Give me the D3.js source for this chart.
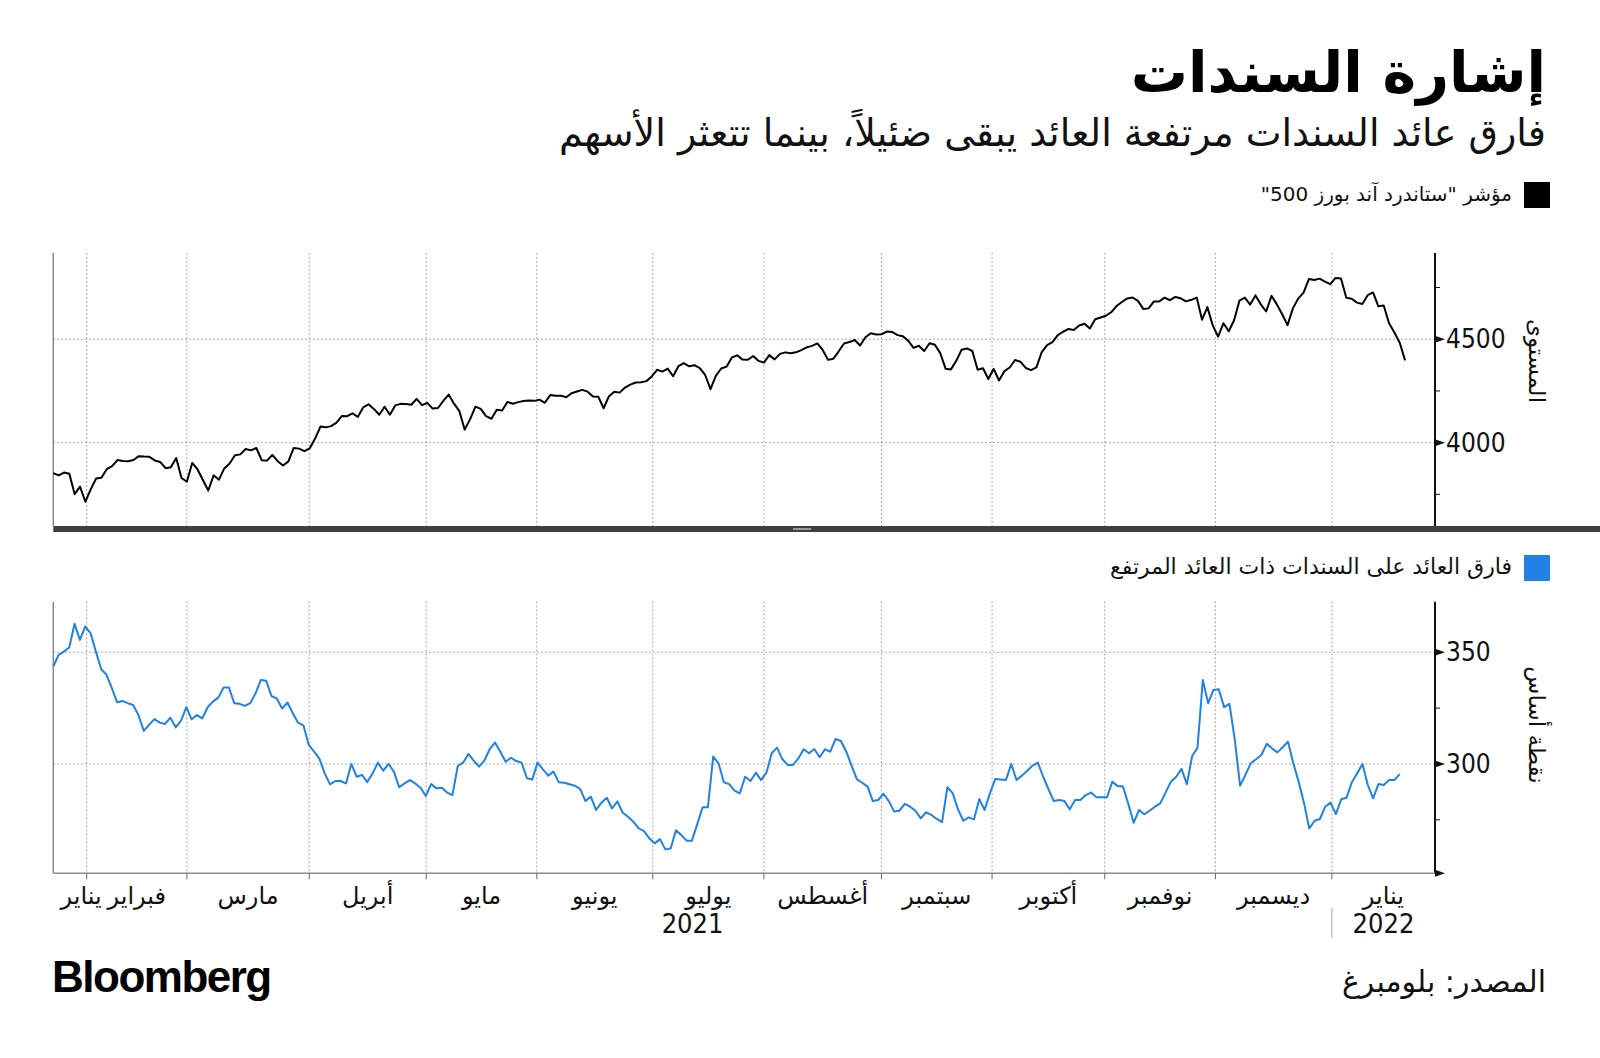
<!DOCTYPE html>
<meta charset="utf-8">
<script src="https://d3js.org/d3.v7.min.js"></script>
<style>
body{margin:0;background:#fff;}
text{font-family:"DejaVu Sans",sans-serif;fill:#111;}
.grid{stroke:#8f8f8f;stroke-width:1;stroke-dasharray:1.5,2.5;}
.num{font-family:"DejaVu Sans Condensed","DejaVu Sans",sans-serif;}
</style>
<div id="chart"></div>
<script>
// S&P 500 daily closes, trading days from 21 Jan 2021 to 21 Jan 2022
var spx = [3853.07,3841.47,3855.36,3849.62,3750.77,3787.38,3714.24,
  3773.86,3826.31,3830.17,3871.74,3886.83,3915.59,3911.23,3909.88,3916.38,3934.83,3932.59,3931.33,3913.97,3906.71,3876.50,3881.37,3925.43,3829.34,3811.15,
  3901.82,3870.29,3819.72,3768.47,3841.94,3821.35,3875.44,3898.81,3939.34,3943.34,3968.94,3962.71,3974.12,3915.46,3913.10,3940.59,3910.52,3889.14,3909.52,3974.54,3971.09,3958.55,3972.89,
  4019.87,4077.91,4073.94,4079.95,4097.17,4128.80,4127.99,4141.59,4124.66,4170.42,4185.47,4163.26,4134.94,4173.42,4134.98,4180.17,4187.62,4186.72,4183.18,4211.47,4181.17,
  4192.66,4164.66,4167.59,4201.62,4232.60,4188.43,4152.10,4063.04,4112.50,4173.85,4163.29,4127.83,4115.68,4159.12,4155.86,4197.05,4188.13,4195.99,4200.88,4204.11,
  4202.04,4208.12,4192.85,4229.89,4226.52,4227.26,4219.55,4239.18,4247.44,4255.15,4246.59,4223.70,4221.86,4166.45,4224.79,4246.44,4241.84,4266.49,4280.70,4290.61,4291.80,4297.50,
  4319.94,4352.34,4343.54,4358.13,4320.82,4369.55,4384.63,4369.21,4374.30,4360.03,4327.16,4258.49,4323.06,4358.69,4367.48,4411.79,4422.30,4401.46,4400.64,4419.15,4395.26,
  4387.16,4423.15,4402.66,4429.10,4436.52,4432.35,4436.75,4447.70,4460.83,4468.00,4479.71,4448.08,4400.27,4405.80,4441.67,4479.53,4486.23,4496.19,4470.00,4509.37,4528.79,4522.68,
  4524.09,4536.95,4535.43,4520.03,4514.07,4493.28,4458.58,4468.73,4443.05,4480.70,4473.75,4432.99,4357.73,4354.19,4395.64,4448.98,4455.48,4443.11,4352.63,4359.46,4307.54,
  4357.04,4300.46,4345.72,4363.55,4399.76,4391.34,4361.19,4350.65,4363.80,4438.26,4471.37,4486.46,4519.63,4536.19,4549.78,4544.90,4566.48,4574.79,4551.68,4596.42,4605.38,
  4613.67,4630.65,4660.57,4680.06,4697.53,4701.70,4685.25,4646.71,4649.27,4682.85,4682.80,4700.90,4688.67,4704.54,4697.96,4682.94,4690.70,4701.46,4594.62,4655.27,4567.00,
  4513.04,4577.10,4538.43,4591.67,4686.75,4701.21,4667.45,4712.02,4668.97,4634.09,4709.85,4668.67,4620.64,4568.02,4649.23,4696.56,4725.79,4791.19,4786.35,4793.06,4778.73,4766.18,
  4796.56,4793.54,4700.58,4696.05,4677.03,4670.29,4713.07,4726.35,4659.03,4662.85,4577.11,4532.76,4482.73,4397.94];

// high-yield spread, basis points, 21 Jan 2021 to 20 Jan 2022
var hySpread = [343.6,348.8,350.3,352.1,362.7,355.5,361.5,358.5,350.3,342.4,
  339.9,333.9,327.6,328.2,327.2,326.4,321.9,314.8,317.5,320.1,
  318.5,317.9,320.7,316.4,319.4,325.4,320.0,321.9,320.4,325.4,
  327.9,329.7,334.2,334.2,327.2,326.9,326.0,327.2,331.6,337.6,
  337.2,330.4,329.3,324.8,327.5,322.7,318.5,317.3,308.5,305.5,
  302.4,295.8,
  290.9,292.4,292.4,291.3,300.0,294.3,295.1,291.9,295.8,300.6,
  297.0,300.0,296.6,289.6,291.3,292.8,291.3,289.4,285.7,291.0,
  289.1,289.4,287.2,286.1,299.1,300.6,304.5,301.5,298.8,301.5,
  306.6,309.6,305.5,301.0,302.8,301.3,300.6,293.6,293.1,300.6,
  297.6,294.8,296.6,291.8,291.6,290.9,290.3,288.8,283.4,285.4,
  279.4,
  282.7,284.9,280.1,283.3,278.2,276.4,274.2,271.2,270.0,266.7,
  264.5,266.4,261.8,262.2,270.4,268.2,265.7,265.7,273.1,280.6,
  280.6,303.3,300.3,291.8,291.0,288.1,286.9,294.3,292.4,296.1,
  292.8,296.1,304.8,307.3,302.1,299.6,299.6,302.5,306.6,304.8,
  306.7,303.0,306.6,305.5,311.2,310.3,305.5,299.3,293.1,291.6,
  289.9,
  283.4,283.9,286.7,283.4,278.7,279.1,282.2,280.9,279.1,275.7,
  278.4,277.2,275.4,274.0,289.6,286.9,279.7,274.6,276.1,275.2,
  284.3,279.4,286.9,293.3,293.1,292.8,300.0,292.8,294.8,297.0,
  299.3,300.6,294.3,288.7,283.4,283.9,283.4,279.7,283.9,283.9,
  286.1,287.2,285.1,285.1,285.1,292.1,290.1,289.9,282.1,273.7,
  279.4,
  277.5,279.1,280.9,282.4,287.2,292.1,294.3,297.8,291.0,303.6,
  307.3,337.6,327.2,333.1,333.4,325.4,326.9,311.0,290.3,295.1,
  300.3,302.1,304.0,309.0,307.0,305.2,307.5,310.0,300.3,292.1,
  282.7,271.2,274.6,275.4,280.9,282.7,277.6,284.2,284.9,291.8,
  295.8,300.0,290.6,284.6,291.0,290.6,292.8,292.8,295.5];
var hyLastDay = 252;

// month boundaries, in trading days from the first point
var monthTicks = [6.25, 25, 47.9, 69.8, 90.5, 112.2, 133, 155, 175.7, 196.8, 217.5, 239.3];
var monthNames = ["فبراير","مارس","أبريل","مايو","يونيو","يوليو","أغسطس","سبتمبر","أكتوبر","نوفمبر","ديسمبر","يناير"];
var firstMonthName = "يناير";
var years = ["2021","2022"];

var spxTicks = [4000, 4500], spxMinor = [3750, 4250, 4750];
var hyTicks = [300, 350], hyMinor = [275, 325];

var title = "إشارة السندات";
var subtitle = "فارق عائد السندات مرتفعة العائد يبقى ضئيلاً، بينما تتعثر الأسهم";
var spxLabel = "مؤشر \"ستاندرد آند بورز 500\"";
var hyLabel = "فارق العائد على السندات ذات العائد المرتفع";
var spxAxisTitle = "المستوى";
var hyAxisTitle = "نقطة أساس";
var source = "المصدر: بلومبرغ";

var blue = "#1f82e4";
var left = 53.3, right = 1435;
var top1 = 253, bot1 = 526, top2 = 601.7, bot2 = 873.3;

var svg = d3.select("#chart").append("svg")
  .attr("width", 1600).attr("height", 1058);

var x = d3.scaleLinear().domain([0, 258.6]).range([left, right]);
var y1 = d3.scaleLinear().domain([3597, 4917]).range([bot1, top1]);
var y2 = d3.scaleLinear().domain([251.1, 372.6]).range([bot2, top2]);

// header
svg.append("text").attr("x", 1546).attr("y", 92)
  .attr("direction", "rtl").attr("text-anchor", "start")
  .style("font-size", "57px").style("font-weight", "bold").style("fill", "#000")
  .text(title);
svg.append("text").attr("x", 1546).attr("y", 146)
  .attr("direction", "rtl").attr("text-anchor", "start")
  .style("font-size", "38px")
  .text(subtitle);

function legend(yTop, color, label, size) {
  svg.append("rect").attr("x", 1524).attr("y", yTop).attr("width", 26).attr("height", 26).attr("fill", color);
  svg.append("text").attr("x", 1512).attr("y", yTop + 19)
    .attr("direction", "rtl").attr("text-anchor", "start")
    .style("font-size", size + "px")
    .text(label);
}
legend(182, "#000", spxLabel, 20);
legend(555, blue, hyLabel, 22);

function panel(yScale, yTop, yBot, ticks, minor, data, lastDay, color, axisTitle, titleY) {
  var g = svg.append("g");

  g.selectAll(".hgrid").data(ticks).enter().append("line")
    .attr("class", "grid")
    .attr("x1", left).attr("x2", right)
    .attr("y1", function(d){return yScale(d);}).attr("y2", function(d){return yScale(d);});

  g.selectAll(".vgrid").data(monthTicks).enter().append("line")
    .attr("class", "grid")
    .attr("x1", function(d){return x(d);}).attr("x2", function(d){return x(d);})
    .attr("y1", yTop).attr("y2", yBot);

  g.append("line").attr("x1", left).attr("x2", left).attr("y1", yTop).attr("y2", yBot)
    .attr("stroke", "#8a8a8a").attr("stroke-width", 1.5);
  g.append("line").attr("x1", right).attr("x2", right).attr("y1", yTop).attr("y2", yBot)
    .attr("stroke", "#111").attr("stroke-width", 2);

  g.selectAll(".minor").data(minor).enter().append("line")
    .attr("x1", right).attr("x2", right + 5)
    .attr("y1", function(d){return yScale(d);}).attr("y2", function(d){return yScale(d);})
    .attr("stroke", "#111").attr("stroke-width", 1);

  g.selectAll(".major").data(ticks).enter().append("path")
    .attr("d", function(d){var yy = yScale(d); return "M" + right + "," + (yy - 3.5) + "L" + (right + 10) + "," + yy + "L" + right + "," + (yy + 3.5) + "Z";})
    .attr("fill", "#111");

  g.selectAll(".tlabel").data(ticks).enter().append("text")
    .attr("class", "num")
    .attr("x", right + 11).attr("y", function(d){return yScale(d);})
    .attr("dominant-baseline", "central")
    .style("font-size", "26px")
    .text(function(d){return d;});

  var step = lastDay / (data.length - 1);
  var line = d3.line()
    .x(function(d, i){return x(i * step);})
    .y(function(d){return yScale(d);});
  g.append("path").datum(data)
    .attr("d", line)
    .attr("fill", "none").attr("stroke", color).attr("stroke-width", 2)
    .attr("stroke-linejoin", "round");

  g.append("text")
    .attr("transform", "translate(1537," + titleY + ") rotate(90)")
    .attr("text-anchor", "middle").attr("dominant-baseline", "central")
    .style("font-size", "23px")
    .text(axisTitle);
}

panel(y1, top1, bot1, spxTicks, spxMinor, spx, spx.length - 1, "#000", spxAxisTitle, 361);
panel(y2, top2, bot2, hyTicks, hyMinor, hySpread, hyLastDay, blue, hyAxisTitle, 725);

// separator bar between the two panels
svg.append("rect").attr("x", left).attr("y", bot1).attr("width", 1600 - left).attr("height", 6).attr("fill", "#3f3f3f");
svg.append("rect").attr("x", 793).attr("y", bot1 + 2).attr("width", 18).attr("height", 2).attr("fill", "#9a9a9a");

// x axis of lower panel
svg.append("line").attr("x1", left).attr("x2", right).attr("y1", bot2).attr("y2", bot2)
  .attr("stroke", "#8a8a8a").attr("stroke-width", 1.5);
svg.append("path")
  .attr("d", "M" + right + "," + (bot2 - 3.5) + "L" + (right + 10) + "," + bot2 + "L" + right + "," + (bot2 + 3.5) + "Z")
  .attr("fill", "#111");
svg.selectAll(".xtick").data(monthTicks).enter().append("line")
  .attr("x1", function(d){return x(d);}).attr("x2", function(d){return x(d);})
  .attr("y1", bot2).attr("y2", bot2 + 6)
  .attr("stroke", "#666").attr("stroke-width", 1);

var bounds = monthTicks.concat([258.6]);
svg.selectAll(".month").data(monthNames).enter().append("text")
  .attr("x", function(d, i){return (x(bounds[i]) + x(bounds[i + 1])) / 2;})
  .attr("y", 904)
  .attr("text-anchor", "middle")
  .style("font-size", "24px")
  .text(function(d){return d;});
svg.append("text")
  .attr("x", x(monthTicks[0]) + 15).attr("y", 904)
  .attr("text-anchor", "end")
  .style("font-size", "24px")
  .text(firstMonthName);

var lastTick = monthTicks[monthTicks.length - 1];
svg.append("text").attr("class", "num")
  .attr("x", (x(0) + x(lastTick)) / 2).attr("y", 933)
  .attr("text-anchor", "middle").style("font-size", "27px")
  .text(years[0]);
svg.append("text").attr("class", "num")
  .attr("x", (x(lastTick) + x(258.6)) / 2).attr("y", 933)
  .attr("text-anchor", "middle").style("font-size", "27px")
  .text(years[1]);
svg.append("line").attr("x1", x(lastTick)).attr("x2", x(lastTick)).attr("y1", 908).attr("y2", 938)
  .attr("stroke", "#aaa").attr("stroke-width", 1);

// footer
svg.append("text").attr("x", 52).attr("y", 992)
  .style("font-family", "'Liberation Sans', Arial, sans-serif")
  .style("font-size", "44px").style("font-weight", "bold").style("letter-spacing", "-1.5px")
  .style("fill", "#000")
  .text("Bloomberg");
svg.append("text").attr("x", 1546).attr("y", 992)
  .attr("direction", "rtl").attr("text-anchor", "start")
  .style("font-size", "30px")
  .text(source);
</script>
